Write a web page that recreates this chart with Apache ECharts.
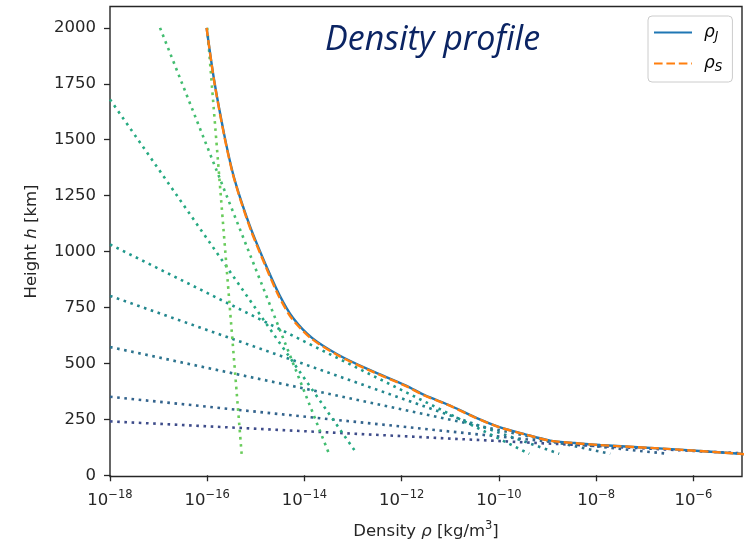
<!DOCTYPE html>
<html>
<head>
<meta charset="utf-8">
<title>Density profile</title>
<script src="https://cdn.jsdelivr.net/npm/echarts@6/dist/echarts.min.js"></script>
<style>
  html, body { margin: 0; padding: 0; background: #ffffff; }
  #chart { width: 744px; height: 545px; }
</style>
</head>
<body>
<div id="chart"></div>
<script>
// Height samples of the density profile [km]
const heightKm = [2000, 1769, 1516, 1356, 1236, 1089, 938, 805, 703, 614, 539, 472, 401, 357, 312, 259, 214, 183, 155, 144, 135, 118, 96, 90];
// Density for model J [kg/m^3]
const rhoJ = [9.7e-17, 1.38e-16, 2.27e-16, 3.32e-16, 4.84e-16, 8.35e-16, 1.62e-15, 3.08e-15, 5.83e-15, 1.43e-14, 4.91e-14, 2.13e-13, 1.23e-12, 3.03e-12, 9.9e-12, 3.24e-11, 1.06e-10, 3.46e-10, 1.13e-9, 3.6e-9, 1.21e-8, 2.89e-7, 9.2e-6, 1.6e-5];
// Density for model S [kg/m^3]
const rhoS = [9.7e-17, 1.37e-16, 2.24e-16, 3.27e-16, 4.75e-16, 8.1e-16, 1.56e-15, 2.9e-15, 5.4e-15, 1.33e-14, 4.6e-14, 2.0e-13, 1.16e-12, 2.9e-12, 9.5e-12, 3.15e-11, 1.03e-10, 3.4e-10, 1.1e-9, 3.5e-9, 1.18e-8, 2.85e-7, 9.1e-6, 1.6e-5];

// Local exponential fits: start and end points of each fitted segment
const fitStartRho = [1e-18, 1e-18, 1e-18, 1e-18, 1e-18, 1e-18, 1.07e-17, 1.0e-16];
const fitStartH   = [241, 351, 573, 802, 1032, 1680, 2000, 2000];
const fitEndRho   = [1e-5, 3.0e-7, 1.95e-8, 1.74e-9, 4.2e-10, 1.2e-13, 3.2e-14, 5.1e-16];
const fitEndH     = [98, 96, 96, 96, 96, 96, 96, 96];
const fitColors   = ['#3e4c8a', '#33638d', '#2c738e', '#23868e', '#1f988b', '#26aa81', '#42bd70', '#6acc5b'];

// Axis tick values
const xTicks = [1e-18, 1e-16, 1e-14, 1e-12, 1e-10, 1e-8, 1e-6];
const yTicks = [0, 250, 500, 750, 1000, 1250, 1500, 1750, 2000];

const seriesList = [];
for (let i = 0; i < fitStartRho.length; i++) {
  seriesList.push({
    type: 'line',
    name: 'fit' + i,
    data: [[fitStartRho[i], fitStartH[i]], [fitEndRho[i], fitEndH[i]]],
    showSymbol: false,
    symbol: 'none',
    silent: true,
    z: 2,
    itemStyle: { color: fitColors[i] },
    lineStyle: { color: fitColors[i], width: 2.6, type: [2.6, 4.6], cap: 'butt' }
  });
}
seriesList.push({
  type: 'line',
  name: 'rhoJ',
  data: heightKm.map((h, i) => [rhoJ[i], h]),
  symbol: 'none',
  smooth: 0.25,
  z: 3,
  itemStyle: { color: '#1f77b4' },
  lineStyle: { color: '#1f77b4', width: 2.4 }
});
seriesList.push({
  type: 'line',
  name: 'rhoS',
  data: heightKm.map((h, i) => [rhoS[i], h]),
  symbol: 'none',
  smooth: 0.25,
  z: 4,
  itemStyle: { color: '#ff7f0e' },
  lineStyle: { color: '#ff7f0e', width: 2.4, type: [8.6, 3.8] }
});

const baseFont = 'DejaVu Sans';
const ink = '#262626';
const chart = echarts.init(document.getElementById('chart'), null, { renderer: 'canvas' });
chart.setOption({
  animation: false,
  backgroundColor: '#ffffff',
  title: {
    text: 'Density profile',
    left: 325,
    top: 23,
    padding: 0,
    textStyle: { fontFamily: 'Open Sans', fontStyle: 'italic', fontWeight: 'normal', fontSize: 34, color: '#0b2463' }
  },
  legend: {
    data: ['rhoJ', 'rhoS'],
    orient: 'vertical',
    left: 648,
    top: 16,
    padding: [8, 10, 8, 5],
    itemWidth: 38,
    itemHeight: 14,
    itemGap: 12,
    backgroundColor: 'rgba(255,255,255,0.8)',
    borderColor: '#cccccc',
    borderWidth: 1,
    borderRadius: 4,
    itemStyle: { opacity: 0 },
    formatter: function (name) {
      return name === 'rhoJ' ? '{r|ρ}{s|J}' : '{r|ρ}{s|S}';
    },
    textStyle: {
      padding: [0, 0, 0, 7],
      rich: {
        r: { fontFamily: baseFont, fontStyle: 'italic', fontSize: 17, color: '#000' },
        s: { fontFamily: baseFont, fontStyle: 'italic', fontSize: 12, color: '#000', padding: [9, 0, 0, 0] }
      }
    }
  },
  grid: {
    left: 110,
    right: 2,
    top: 6.5,
    bottom: 65.5,
    show: true,
    borderColor: ink,
    borderWidth: 1.4,
    backgroundColor: 'transparent'
  },
  xAxis: {
    type: 'log',
    logBase: 10,
    min: 1e-18,
    max: 1e-5,
    name: 'Density {i|ρ} [kg/m{sup|3}]',
    nameLocation: 'middle',
    nameGap: 44,
    nameTextStyle: {
      fontFamily: baseFont,
      fontSize: 16.5,
      color: ink,
      rich: {
        i: { fontFamily: baseFont, fontStyle: 'italic', fontSize: 16.5, color: ink },
        sup: { fontFamily: baseFont, fontSize: 11.5, color: ink, padding: [0, 0, 10, 0] }
      }
    },
    axisLine: { show: false },
    splitLine: { show: false },
    minorTick: { show: false },
    axisTick: { show: true, length: 6, customValues: xTicks, lineStyle: { color: ink, width: 1.3 } },
    axisLabel: {
      customValues: xTicks,
      margin: 13,
      color: ink,
      fontFamily: baseFont,
      fontSize: 16.5,
      formatter: function (v) {
        const e = Math.round(Math.log10(v));
        return '10{sup|' + (e < 0 ? '\u2212' : '') + Math.abs(e) + '}';
      },
      rich: {
        sup: { fontFamily: baseFont, fontSize: 11.5, color: ink, padding: [0, 0, 10, 0] }
      }
    }
  },
  yAxis: {
    type: 'value',
    min: -5.5,
    max: 2095.5,
    name: 'Height {i|h} [km]',
    nameLocation: 'middle',
    nameGap: 70,
    nameRotate: 90,
    nameTextStyle: {
      fontFamily: baseFont,
      fontSize: 16.5,
      color: ink,
      rich: {
        i: { fontFamily: baseFont, fontStyle: 'italic', fontSize: 16.5, color: ink }
      }
    },
    axisLine: { show: false },
    splitLine: { show: false },
    axisTick: { show: true, length: 6, customValues: yTicks, lineStyle: { color: ink, width: 1.3 } },
    axisLabel: {
      customValues: yTicks,
      margin: 14,
      color: ink,
      fontFamily: baseFont,
      fontSize: 16.5,
      formatter: function (v) { return String(v); }
    }
  },
  series: seriesList
});
</script>
</body>
</html>
